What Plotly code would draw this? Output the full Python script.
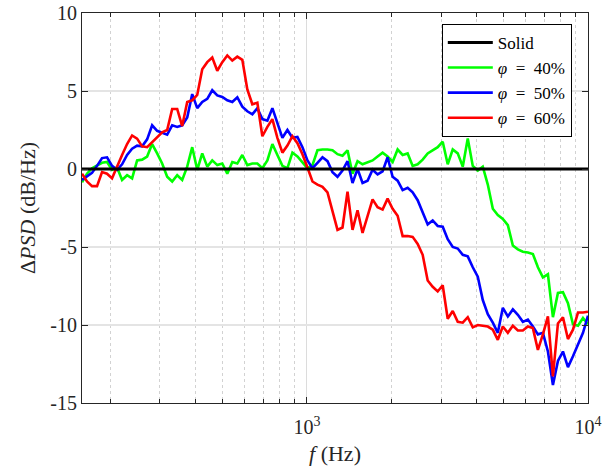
import numpy as np
import plotly.graph_objects as go

# Frequency grid (Hz), log-spaced analysis bins
freq = np.logspace(2.2, 4.0, 102)

solid = [0.0] * len(freq)

phi40 = [-0.85, -0.3, 0.05, 0.25, 0.4, 0.45, -0.05, 0.1, -0.7, -0.4,
         -0.6, 0.55, 0.6, 0.8, 1.6, 1.0, 0.35, -0.5, -0.8, -0.4,
         -0.7, 0.15, 1.4, -0.05, 1.0, 0.15, 0.55, 0.25, 0.35, -0.3,
         0.45, 0.35, 0.9, 0.25, 0.35, 0.35, 0.05, 0.55, 1.6, 0.9,
         0.2, 0.05, 1.05, 0.8, 0.45, 0.05, 0.25, 1.2, 1.25, 1.25,
         1.2, 0.95, 0.85, 1.2, -0.3, 0.5, 0.3, 0.4, 0.55, 0.8,
         1.05, 0.8, 0.45, 1.25, 0.9, 1.0, 0.2, 0.3, 0.6, 1.0,
         1.2, 1.4, 1.75, 0.3, 1.25, 1.0, 0.15, 1.95, 0.2, -0.1,
         0.15, -1.0, -2.55, -2.95, -3.2, -3.6, -4.9, -5.15, -5.3, -5.35,
         -5.45, -6.3, -6.95, -6.75, -9.5, -7.95, -7.9, -8.6, -9.95, -10.05,
         -9.55, -9.95]

phi50 = [-0.7, -0.5, -0.25, 0.2, 0.7, 0.75, 0.2, -0.05, 0.3, 0.9,
         1.3, 1.5, 1.45, 1.9, 2.8, 2.45, 2.35, 2.2, 2.8, 2.7,
         2.8, 3.3, 4.8, 3.9, 4.3, 4.5, 5.05, 4.72, 4.62, 4.4,
         4.3, 4.6, 4.0, 3.7, 3.5, 3.9, 3.2, 3.1, 3.9, 2.9,
         2.0, 2.5, 2.0, 2.05, 1.4, 0.55, 0.05, 0.4, 0.75, 0.5,
         -0.2, -0.5, -0.1, 0.5, -0.9, 0.0, -0.9, -0.75, -0.05, -0.35,
         -0.15, 0.75, -0.5, -0.75, -1.35, -1.2, -1.5, -2.0, -2.8, -3.55,
         -3.3, -3.65, -3.7, -4.5, -5.0, -5.1, -5.5, -5.6, -6.3, -6.9,
         -8.4, -9.3, -9.85, -10.5, -8.9, -9.45, -9.0, -9.35, -9.8, -9.65,
         -10.1, -10.6, -10.5, -11.7, -13.85, -12.3, -11.7, -12.7, -12.0, -11.3,
         -10.5, -9.4]

phi60 = [-0.3, -0.8, -1.1, -1.1, -0.2, -0.3, -0.6, 0.2, 0.9, 1.6,
         2.15, 1.95, 1.45, 1.4, 1.7, 2.05, 2.35, 2.5, 3.85, 3.85,
         2.75, 4.3, 4.4, 4.75, 6.4, 6.85, 7.15, 6.3, 6.85, 7.28,
         6.95, 7.2, 7.0, 5.1, 4.15, 4.25, 2.1, 2.7, 3.2, 2.0,
         1.05, 1.5, 2.1, 1.65, 0.95, 0.1, -0.8, -1.0, -1.15, -1.5,
         -2.8, -3.9, -3.75, -1.45, -3.9, -2.65, -4.1, -3.1, -1.95, -2.45,
         -2.6, -1.9, -2.55, -3.0, -4.3, -4.3, -4.35, -4.8, -5.5, -7.15,
         -7.55, -7.85, -7.45, -9.6, -9.1, -9.8, -9.85, -9.5, -10.15, -10.0,
         -10.05, -10.1, -10.3, -10.95, -10.1, -10.5, -10.05, -10.35, -10.35, -10.1,
         -10.2, -11.6, -10.6, -9.45, -13.3, -9.9, -9.5, -10.9, -10.3, -9.2,
         -9.2, -9.15]

names = ["Solid", "<i>φ</i>\u2002=\u200240%", "<i>φ</i>\u2002=\u200250%", "<i>φ</i>\u2002=\u200260%"]
colors = ["#000000", "#00FF00", "#0000FF", "#FF0000"]
series = [solid, phi40, phi50, phi60]

yticks = [-15, -10, -5, 0, 5, 10]
ytick_text = ["-15", "-10", "-5", "0", "5", "10"]
xticks = [1000, 10000]
xtick_text = ["10<sup>3</sup>", "10<sup>4</sup>"]
xminor = [200, 300, 400, 500, 600, 700, 800, 900,
          2000, 3000, 4000, 5000, 6000, 7000, 8000, 9000]

FONT = "Liberation Serif"

fig = go.Figure()
order = [1, 2, 3, 0]
for k in order:
    fig.add_trace(go.Scatter(
        x=freq, y=series[k], mode="lines", name=names[k],
        line=dict(color=colors[k], width=3 if k == 0 else 2.6),
        legendrank=k + 1,
    ))

axis_col = "#262626"
fig.update_layout(
    width=602, height=467,
    margin=dict(l=82, r=14, t=13, b=64),
    paper_bgcolor="white", plot_bgcolor="white",
    font=dict(family=FONT, size=17, color="#000000"),
    showlegend=True,
    legend=dict(
        x=0.968, y=0.972, xanchor="right", yanchor="top",
        bgcolor="white", bordercolor="#000000", borderwidth=1,
        font=dict(family=FONT, size=17, color="#000000"),
        itemwidth=45, tracegroupgap=0,
    ),
)
fig.update_xaxes(
    type="log", range=[2.2, 4.0], automargin=False,
    tickvals=xticks, ticktext=xtick_text,
    tickfont=dict(family=FONT, size=20, color=axis_col),
    ticks="inside", ticklen=6, tickcolor=axis_col, ticklabelstandoff=6,
    showline=True, linecolor=axis_col, linewidth=1, mirror="ticks",
    showgrid=True, gridcolor="#dcdcdc", gridwidth=1,
    minor=dict(tickvals=xminor, ticks="inside", ticklen=4, tickcolor=axis_col,
               showgrid=True, gridcolor="#d2d2d2", griddash="dot", gridwidth=1),
    title=dict(text="<i>f</i> (Hz)", font=dict(family=FONT, size=22, color=axis_col), standoff=8),
    zeroline=False,
)
fig.update_yaxes(
    range=[-15, 10], automargin=False,
    tickvals=yticks, ticktext=ytick_text,
    tickfont=dict(family=FONT, size=20, color=axis_col),
    ticks="inside", ticklen=6, tickcolor=axis_col,
    showline=True, linecolor=axis_col, linewidth=1, mirror="ticks",
    showgrid=True, gridcolor="#e4e4e4", gridwidth=1.5,
    title=dict(text="Δ<i>PSD</i> (dB/Hz)", font=dict(family=FONT, size=22, color=axis_col), standoff=8),
    zeroline=False,
)

fig.write_html("out.html",
               config={"displayModeBar": False},
               post_script="document.body.style.margin='0';document.body.style.overflow='hidden';")
